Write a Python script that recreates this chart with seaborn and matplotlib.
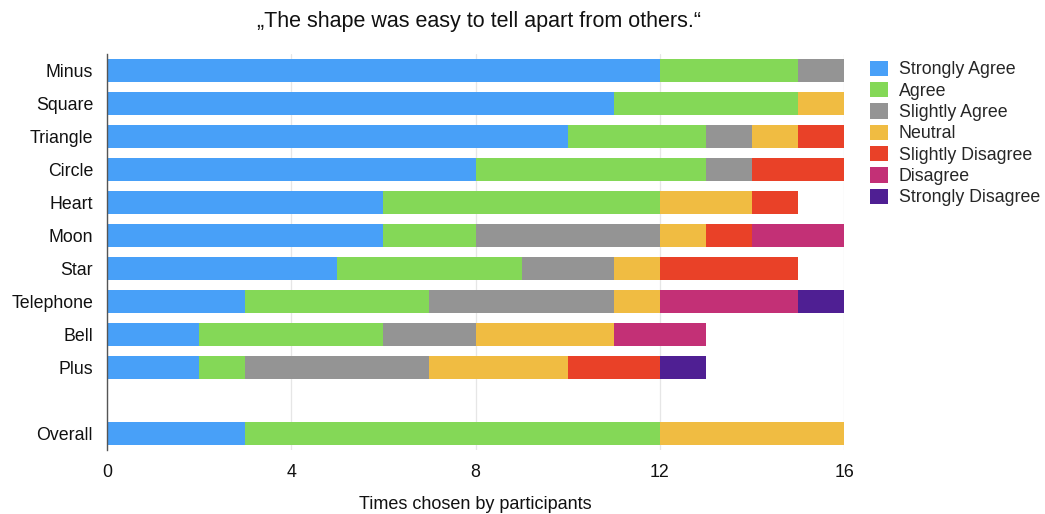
import numpy as np
import pandas as pd
import matplotlib
matplotlib.use("Agg")
import matplotlib.pyplot as plt
from matplotlib.patches import Patch
import seaborn as sns

shapes = ["Minus", "Square", "Triangle", "Circle", "Heart", "Moon", "Star",
          "Telephone", "Bell", "Plus", " ", "Overall"]
responses = ["Strongly Agree", "Agree", "Slightly Agree", "Neutral",
             "Slightly Disagree", "Disagree", "Strongly Disagree"]
colors = ["#48A0F8", "#84D857", "#949494", "#F0BC42", "#E94128", "#C33076", "#4F1F93"]

strongly_agree    = [12, 11, 10, 8, 6, 6, 5, 3, 2, 2, 0, 3]
agree             = [3, 4, 3, 5, 6, 2, 4, 4, 4, 1, 0, 9]
slightly_agree    = [1, 0, 1, 1, 0, 4, 2, 4, 2, 4, 0, 0]
neutral           = [0, 1, 1, 0, 2, 1, 1, 1, 3, 3, 0, 4]
slightly_disagree = [0, 0, 1, 2, 1, 1, 3, 0, 0, 2, 0, 0]
disagree          = [0, 0, 0, 0, 0, 2, 0, 3, 2, 0, 0, 0]
strongly_disagree = [0, 0, 0, 0, 0, 0, 0, 1, 0, 1, 0, 0]

counts = np.array([strongly_agree, agree, slightly_agree, neutral,
                   slightly_disagree, disagree, strongly_disagree])
cumulative = counts.cumsum(axis=0)

rows = []
for i, resp in enumerate(responses):
    for j, shape in enumerate(shapes):
        if shape.strip():
            rows.append({"shape": shape, "response": resp, "end": cumulative[i, j]})
df = pd.DataFrame(rows)

sns.set_style("white")
plt.rcParams["font.family"] = ["Liberation Sans", "DejaVu Sans"]

fig = plt.figure(figsize=(10.45, 5.14), dpi=100)
ax = fig.add_axes([0.1024, 0.1245, 0.7053, 0.7705])

# Stacked bars: draw cumulative totals from the last response back to the first
for i in reversed(range(len(responses))):
    sub = df[df["response"] == responses[i]]
    sns.barplot(data=sub, x="end", y="shape", order=shapes, color=colors[i],
                orient="h", width=0.72, saturation=1, ax=ax, linewidth=0)

ax.set_xlim(0, 16)
ax.set_ylim(len(shapes) - 0.5, -0.5)
ax.set_xticks([0, 4, 8, 12, 16])
ax.tick_params(axis="both", length=0, labelsize=12.8, colors="#111111")
ax.tick_params(axis="x", pad=10)
ax.tick_params(axis="y", pad=10)
ax.set_axisbelow(True)
ax.grid(axis="x", color="#e6e6e6", linewidth=0.9)
for side in ["top", "right", "bottom"]:
    ax.spines[side].set_visible(False)
ax.spines["left"].set_color("#555555")
ax.spines["left"].set_linewidth(1.0)
ax.set_ylabel("")
ax.set_xlabel("Times chosen by participants", fontsize=13, labelpad=11, color="#111111")

fig.suptitle("\u201eThe shape was easy to tell apart from others.\u201c",
             x=0.458, y=0.978, fontsize=15.5, color="#111111")

handles = [Patch(facecolor=c, edgecolor="none") for c in colors]
fig.legend(handles, responses, loc="upper left", bbox_to_anchor=(0.8325, 0.882),
           frameon=False, fontsize=12.8, handlelength=1.0, handleheight=0.95,
           handletextpad=0.63, labelspacing=0.2, borderaxespad=0, borderpad=0)

fig.savefig("out.png", dpi=100)
